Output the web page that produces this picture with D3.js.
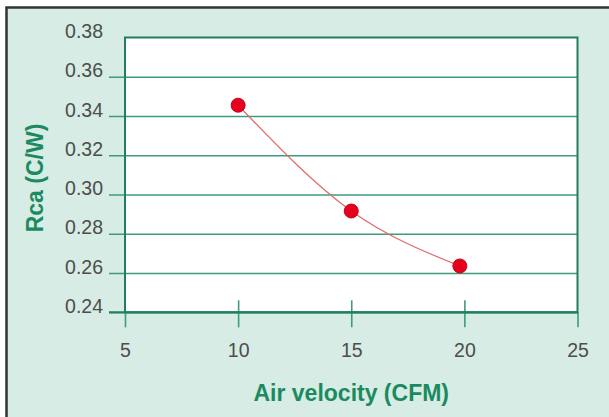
<!DOCTYPE html>
<html>
<head>
<meta charset="utf-8">
<script src="https://cdn.jsdelivr.net/npm/d3@7"></script>
<style>
  body { margin: 0; background: #fff; }
  text { font-family: "Liberation Sans", Arial, sans-serif; }
</style>
</head>
<body>
<svg id="chart" width="609" height="417"></svg>
<script>
const svg = d3.select("#chart");

// data
const airVelocity = [10, 15, 19.8];
const rca = [0.3455, 0.2916, 0.2636];
const xTicks = [5, 10, 15, 20, 25];
const yTicks = [0.24, 0.26, 0.28, 0.30, 0.32, 0.34, 0.36, 0.38];

const plotL = 125, plotR = 577.5, plotT = 37.5, plotB = 312.3;
const gridColor = "#3c9c7c", frameColor = "#217f5c", titleColor = "#1b8a60";

// background + border
svg.append("rect").attr("x", 6).attr("y", 7).attr("width", 603).attr("height", 410).attr("fill", "#d6ece4");
svg.append("path").attr("d", "M6.5,417V7.5H609").attr("fill", "none").attr("stroke", "#333").attr("stroke-width", 2.5);

const x = d3.scaleLinear().domain([5, 25]).range([plotL, plotR]);
const y = d3.scaleLinear().domain([0.24, 0.38]).range([plotB, plotT]);

// plot area
svg.append("rect")
    .attr("x", plotL).attr("y", plotT)
    .attr("width", plotR - plotL).attr("height", plotB - plotT)
    .attr("fill", "#fff");

// y grid + labels
const yAxis = svg.append("g")
    .attr("transform", `translate(${plotL},0)`)
    .call(d3.axisLeft(y).tickValues(yTicks).tickSize(-(plotR - plotL)).tickFormat(d3.format(".2f")));
yAxis.select(".domain").remove();
yAxis.selectAll(".tick line")
    .attr("x1", -16)
    .attr("stroke", gridColor)
    .attr("stroke-width", 1.6)
    .filter(d => d === 0.38).remove();
yAxis.selectAll(".tick text")
    .attr("x", -22).attr("dy", "0")
    .attr("fill", "#4d4d4d")
    .style("font-size", "19.5px");

// x axis ticks + labels
const xAxis = svg.append("g")
    .attr("transform", `translate(0,${plotB})`)
    .call(d3.axisBottom(x).tickValues(xTicks).tickSize(15).tickFormat(d3.format("d")));
xAxis.select(".domain").remove();
xAxis.selectAll(".tick line")
    .attr("y1", d => (d === 5 || d === 25) ? 0 : -12)
    .attr("stroke", gridColor)
    .attr("stroke-width", 1.6);
xAxis.selectAll(".tick text")
    .attr("y", 45).attr("dy", "0")
    .attr("fill", "#4d4d4d")
    .style("font-size", "19.5px");

// frame
svg.append("rect")
    .attr("x", plotL).attr("y", plotT)
    .attr("width", plotR - plotL).attr("height", plotB - plotT)
    .attr("fill", "none")
    .attr("stroke", frameColor)
    .attr("stroke-width", 2);
svg.append("line").attr("x1", plotL - 16).attr("x2", plotR).attr("y1", plotB).attr("y2", plotB)
    .attr("stroke", frameColor).attr("stroke-width", 2);

// curve + points
const pts = airVelocity.map((v, i) => [v, rca[i]]);
svg.append("path")
    .datum(pts)
    .attr("fill", "none")
    .attr("stroke", "#e06a6a")
    .attr("stroke-width", 1.2)
    .attr("d", d3.line().x(d => x(d[0])).y(d => y(d[1])).curve(d3.curveMonotoneX));

svg.selectAll("circle.pt")
    .data(pts)
    .enter().append("circle")
    .attr("class", "pt")
    .attr("cx", d => x(d[0]))
    .attr("cy", d => y(d[1]))
    .attr("r", 7)
    .attr("fill", "#e6001e")
    .attr("stroke", "#c8001a")
    .attr("stroke-width", 1);

// axis titles
svg.append("text")
    .attr("x", x(15)).attr("y", 401)
    .attr("text-anchor", "middle")
    .attr("fill", titleColor)
    .style("font-size", "23px").style("font-weight", "bold")
    .text("Air velocity (CFM)");

svg.append("text")
    .attr("transform", `translate(43,178) rotate(-90)`)
    .attr("text-anchor", "middle")
    .attr("fill", titleColor)
    .style("font-size", "23px").style("font-weight", "bold")
    .text("Rca (C/W)");
</script>
</body>
</html>
